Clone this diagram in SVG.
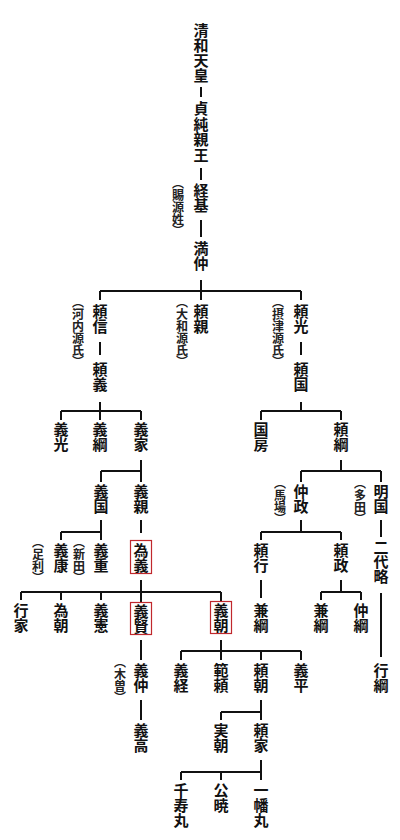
<svg xmlns="http://www.w3.org/2000/svg" width="400" height="840" viewBox="0 0 400 840">
<style>
.n{font-family:"Noto Sans CJK JP","Noto Sans CJK SC",sans-serif;font-size:15px;font-weight:700;fill:#111;writing-mode:vertical-rl}
.a{font-family:"Noto Sans CJK JP","Noto Sans CJK SC",sans-serif;font-size:12px;font-weight:700;fill:#222;writing-mode:vertical-rl;font-feature-settings:"vpal" 1}
.c{fill:none;stroke:#111;stroke-width:2}
.box{fill:none;stroke:#c0282d;stroke-width:1.2}
</style>
<rect width="400" height="840" fill="#fff"/>
<g id="connectors" class="c">
<path d="M201 87V97M201 168V180M201 220V237M201 280V300M100 291H301M100 291V300M301 291V300"/>
<path d="M100 342V355M301 342V355"/>
<path d="M100 402V411M61 411H141M61 411V420M100 411V420M141 411V420"/>
<path d="M301 402V411M261 411H341M261 411V420M341 411V420"/>
<path d="M141 460V471M101 471H141M101 471V482M141 471V482"/>
<path d="M341 460V471M301 471H381M301 471V482M381 471V482"/>
<path d="M101 520V532M61 532H101M61 532V540M101 532V540"/>
<path d="M141 520V533"/>
<path d="M301 520V532M261 532H341M261 532V540M341 532V540"/>
<path d="M381 520V537"/>
<path d="M141 580V602M21 592H221M21 592V600M61 592V600M101 592V600M221 592V601"/>
<path d="M261 580V598"/>
<path d="M341 580V592M321 592H361M321 592V600M361 592V600"/>
<path d="M381 593V657"/>
<path d="M141 640V660M141 700V720"/>
<path d="M221 640V651M181 651H301M181 651V660M221 651V660M261 651V660M301 651V660"/>
<path d="M261 700V712M221 712H261M221 712V720M261 712V720"/>
<path d="M261 760V772M181 772H261M181 772V780M221 772V780M261 772V780"/>
</g>
<g id="n-seiwa"><text class="n" x="201" y="23">清和天皇</text></g>
<g id="n-sadazumi"><text class="n" x="201" y="101" letter-spacing="0.5">貞純親王</text></g>
<g id="n-tsunemoto"><text class="n" x="201" y="183">経基</text><text class="a" x="178" y="183">（賜源姓）</text></g>
<g id="n-mitsunaka"><text class="n" x="201" y="241">満仲</text></g>
<g id="n-yorinobu"><text class="n" x="100" y="304">頼信</text><text class="a" x="78" y="302">（河内源氏）</text></g>
<g id="n-yorichika"><text class="n" x="201" y="304">頼親</text><text class="a" x="182" y="302">（大和源氏）</text></g>
<g id="n-yorimitsu"><text class="n" x="301" y="304">頼光</text><text class="a" x="278" y="302">（摂津源氏）</text></g>
<g id="n-yoriyoshi"><text class="n" x="100" y="362">頼義</text></g>
<g id="n-yorikuni"><text class="n" x="301" y="362">頼国</text></g>
<g id="n-yoshimitsu"><text class="n" x="61" y="422">義光</text></g>
<g id="n-yoshitsuna"><text class="n" x="100" y="422">義綱</text></g>
<g id="n-yoshiie"><text class="n" x="141" y="422">義家</text></g>
<g id="n-kunifusa"><text class="n" x="261" y="422">国房</text></g>
<g id="n-yoritsuna"><text class="n" x="341" y="422">頼綱</text></g>
<g id="n-yoshikuni"><text class="n" x="101" y="483.5">義国</text></g>
<g id="n-yoshichika"><text class="n" x="141" y="483.5">義親</text></g>
<g id="n-nakamasa"><text class="n" x="301" y="483.5">仲政</text><text class="a" x="280" y="483">（馬場）</text></g>
<g id="n-akikuni"><text class="n" x="381" y="483.5">明国</text><text class="a" x="360" y="483">（多田）</text></g>
<g id="n-yoshiyasu"><text class="n" x="61" y="542.5">義康</text><text class="a" x="38" y="542">（足利）</text></g>
<g id="n-yoshishige"><text class="n" x="101" y="542.5">義重</text><text class="a" x="79" y="542">（新田）</text></g>
<g id="n-tameyoshi"><rect class="box" x="130.5" y="540.5" width="21" height="33"/><text class="n" x="141" y="542.5">為義</text></g>
<g id="n-yoriyuki"><text class="n" x="261" y="542.5">頼行</text></g>
<g id="n-yorimasa"><text class="n" x="341" y="542.5">頼政</text></g>
<g id="n-nidai"><text class="n" x="381" y="539.5" letter-spacing="-0.5">二代略</text></g>
<g id="n-yukiie"><text class="n" x="21" y="602.5">行家</text></g>
<g id="n-tametomo"><text class="n" x="61" y="602.5">為朝</text></g>
<g id="n-yoshinori"><text class="n" x="101" y="602.5">義憲</text></g>
<g id="n-yoshikata"><rect class="box" x="130.5" y="602.5" width="21" height="32"/><text class="n" x="141" y="603.5">義賢</text></g>
<g id="n-yoshitomo"><rect class="box" x="210.5" y="601.5" width="21" height="32"/><text class="n" x="221" y="602.5">義朝</text></g>
<g id="n-kanetsuna1"><text class="n" x="261" y="602.5">兼綱</text></g>
<g id="n-kanetsuna2"><text class="n" x="321" y="602.5">兼綱</text></g>
<g id="n-nakatsuna"><text class="n" x="361" y="602.5">仲綱</text></g>
<g id="n-yoshinaka"><text class="n" x="141" y="662.5">義仲</text><text class="a" x="120" y="662">（木曽）</text></g>
<g id="n-yoshitsune"><text class="n" x="181" y="662.5">義経</text></g>
<g id="n-noriyori"><text class="n" x="221" y="662.5">範頼</text></g>
<g id="n-yoritomo"><text class="n" x="261" y="662.5">頼朝</text></g>
<g id="n-yoshihira"><text class="n" x="301" y="662.5">義平</text></g>
<g id="n-yukitsuna"><text class="n" x="381" y="662.5">行綱</text></g>
<g id="n-yoshitaka"><text class="n" x="141" y="722.5">義高</text></g>
<g id="n-sanetomo"><text class="n" x="221" y="722.5">実朝</text></g>
<g id="n-yoriie"><text class="n" x="261" y="722.5">頼家</text></g>
<g id="n-senjumaru"><text class="n" x="181" y="782.5">千寿丸</text></g>
<g id="n-kugyo"><text class="n" x="221" y="782.5">公暁</text></g>
<g id="n-ichiman"><text class="n" x="261" y="782.5">一幡丸</text></g>
</svg>
